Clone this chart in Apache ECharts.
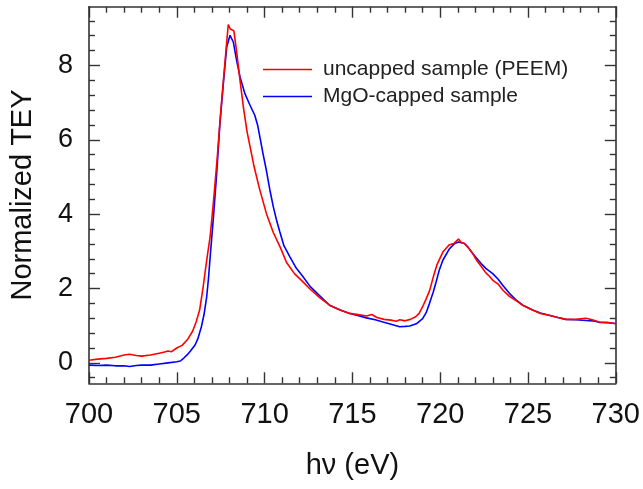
<!DOCTYPE html>
<html>
<head>
<meta charset="utf-8">
<script src="https://cdn.jsdelivr.net/npm/echarts@6/dist/echarts.min.js"></script>
<style>html,body{margin:0;padding:0;background:#fff}#c{width:643px;height:489px}</style>
</head>
<body>
<div id="c"></div>
<script>
var seriesNames = ['uncapped sample (PEEM)', 'MgO-capped sample'];
var xTitle = 'h\u03bd (eV)';
var yTitle = 'Normalized TEY';
var yMajorTicks = [0, 2, 4, 6, 8];
var yMinorTicks = [-0.4, 0.4, 0.8, 1.2, 1.6, 2.4, 2.8, 3.2, 3.6, 4.4, 4.8, 5.2, 5.6, 6.4, 6.8, 7.2, 7.6, 8.4, 8.8, 9.2];

var uncappedE = [700.0,700.5,701.0,701.5,702.0,702.3,702.7,703.0,703.5,704.0,704.3,704.5,704.7,705.0,705.3,705.6,705.9,706.1,706.3,706.5,706.7,706.9,707.1,707.3,707.5,707.7,707.93,708.05,708.25,708.4,708.6,708.8,709.0,709.2,709.4,709.7,710.1,710.5,710.9,711.25,711.7,712.2,712.6,713.1,713.7,714.3,714.85,715.4,715.8,716.1,716.4,716.8,717.2,717.5,717.7,718.0,718.3,718.6,718.8,719.0,719.2,719.4,719.6,719.8,720.15,720.5,720.8,721.04,721.2,721.38,721.6,721.85,722.1,722.33,722.6,722.8,723.0,723.3,723.56,723.94,724.3,724.7,725.26,725.7,726.2,726.7,727.16,727.7,728.3,728.7,729.05,729.5,730.0];
var uncappedY = [0.07,0.10,0.12,0.15,0.21,0.23,0.20,0.18,0.21,0.26,0.29,0.32,0.30,0.40,0.47,0.62,0.85,1.10,1.42,2.04,2.75,3.40,4.40,5.50,6.75,7.85,9.10,8.98,8.93,8.40,7.60,6.85,6.22,5.75,5.28,4.70,4.02,3.50,3.10,2.70,2.40,2.17,1.98,1.77,1.55,1.42,1.33,1.29,1.26,1.30,1.22,1.17,1.15,1.12,1.16,1.13,1.17,1.24,1.33,1.51,1.72,1.95,2.30,2.62,2.98,3.17,3.22,3.33,3.24,3.21,3.10,2.94,2.74,2.60,2.42,2.33,2.22,2.12,1.96,1.79,1.68,1.55,1.42,1.33,1.28,1.22,1.17,1.17,1.20,1.15,1.10,1.09,1.05];

var cappedE = [700.0,700.5,701.0,701.5,702.0,702.3,702.7,703.0,703.5,704.0,704.5,705.0,705.2,705.4,705.6,705.8,706.04,706.2,706.4,706.55,706.7,706.8,706.9,707.1,707.27,707.45,707.65,707.84,708.03,708.22,708.4,708.6,708.88,709.15,709.44,709.6,709.73,709.9,710.1,710.3,710.5,710.7,710.87,711.1,711.44,711.8,712.2,712.6,713.1,713.7,714.3,714.85,715.4,715.8,716.3,716.74,717.2,717.69,718.0,718.26,718.64,719.0,719.2,719.39,719.6,719.77,719.95,720.15,720.53,720.8,721.04,721.38,721.6,721.85,722.1,722.33,722.6,722.99,723.3,723.56,723.94,724.3,724.7,725.26,725.7,726.2,726.7,727.16,727.7,728.3,728.7,729.05,729.5,730.0];
var cappedY = [-0.06,-0.07,-0.06,-0.08,-0.08,-0.10,-0.07,-0.06,-0.06,-0.03,0.00,0.03,0.05,0.13,0.22,0.33,0.48,0.65,0.97,1.30,1.77,2.25,2.85,4.00,5.09,6.40,7.51,8.49,8.81,8.63,8.15,7.69,7.24,6.95,6.66,6.40,6.08,5.65,5.18,4.65,4.19,3.80,3.52,3.15,2.85,2.55,2.31,2.05,1.82,1.55,1.42,1.33,1.26,1.21,1.16,1.10,1.04,0.97,0.98,0.99,1.05,1.19,1.35,1.60,1.90,2.18,2.50,2.76,3.07,3.20,3.25,3.21,3.10,2.94,2.80,2.67,2.54,2.40,2.25,2.09,1.87,1.70,1.55,1.42,1.34,1.28,1.22,1.17,1.16,1.14,1.13,1.09,1.08,1.06];

function pairs(xs, ys) { return xs.map(function (x, i) { return [x, ys[i]]; }); }

var FONT = '"Liberation Sans", Arial, sans-serif';
var AX = '#333';
var chart = echarts.init(document.getElementById('c'));
var yMin = -0.55, yMax = 9.58;

function yAx(pos, ticks, len, showLine, showLabel) {
  return {
    type: 'value', position: pos, min: yMin, max: yMax, gridIndex: 0,
    splitLine: { show: false },
    axisLine: { show: showLine, onZero: false, lineStyle: { color: AX, width: 1.6 } },
    axisTick: { show: true, inside: true, length: len, customValues: ticks, lineStyle: { color: AX, width: 1.4 } },
    axisLabel: { show: showLabel, customValues: yMajorTicks, margin: 16, fontSize: 27, color: '#111', fontFamily: FONT },
    name: showLabel ? yTitle : '', nameLocation: 'middle', nameGap: 52,
    nameTextStyle: { fontSize: 29, color: '#111', fontFamily: FONT }
  };
}
function xAx(pos, showLabel) {
  return {
    type: 'value', position: pos, min: 700, max: 730, interval: 5,
    splitLine: { show: false },
    axisLine: { show: true, onZero: false, lineStyle: { color: AX, width: 1.6 } },
    axisTick: { show: true, inside: true, length: 11, lineStyle: { color: AX, width: 1.4 } },
    minorTick: { show: true, splitNumber: 5, length: 6, lineStyle: { color: AX, width: 1.4 } },
    axisLabel: { show: showLabel, margin: 17, fontSize: 29, color: '#111', fontFamily: FONT },
    name: showLabel ? xTitle : '', nameLocation: 'middle', nameGap: 68,
    nameTextStyle: { fontSize: 29, color: '#111', fontFamily: FONT }
  };
}

chart.setOption({
  animation: false,
  grid: { left: 88.7, right: 26.3, top: 6.7, bottom: 105.7, containLabel: false },
  legend: {
    orient: 'vertical', left: 263, top: 59, padding: 0, icon: 'rect', itemWidth: 49, itemHeight: 1.6, itemGap: 6,
    textStyle: { fontSize: 21, color: '#222', fontFamily: FONT, padding: [0, 0, 0, 6] },
    data: seriesNames
  },
  xAxis: [xAx('bottom', true), xAx('top', false)],
  yAxis: [
    yAx('left', yMajorTicks, 11, true, true),
    yAx('left', yMinorTicks, 6, false, false),
    yAx('right', yMajorTicks, 11, true, false),
    yAx('right', yMinorTicks, 6, false, false)
  ],
  series: [
    { name: seriesNames[0], type: 'line', xAxisIndex: 0, yAxisIndex: 0, data: pairs(uncappedE, uncappedY), symbol: 'none', showSymbol: false, lineStyle: { color: '#ff0000', width: 1.6 }, itemStyle: { color: '#ff0000' }, z: 3 },
    { name: seriesNames[1], type: 'line', xAxisIndex: 0, yAxisIndex: 0, data: pairs(cappedE, cappedY), symbol: 'none', showSymbol: false, lineStyle: { color: '#0000ff', width: 1.6 }, itemStyle: { color: '#0000ff' }, z: 2 }
  ]
});
</script>
</body>
</html>
